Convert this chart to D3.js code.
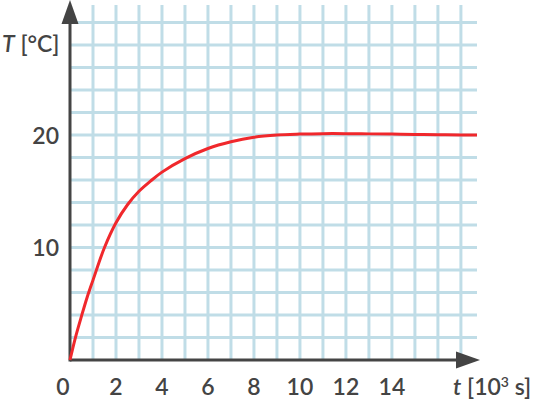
<!DOCTYPE html>
<html lang="en">
<head>
<meta charset="utf-8">
<title>T vs t</title>
<script src="https://d3js.org/d3.v7.min.js"></script>
<style>
  body { margin: 0; background: #fff; }
  text { font-family: Lato, "Open Sans", sans-serif; fill: #444; font-weight: 600; }
</style>
</head>
<body>
<script>
// data
var time = [0, 0.25, 0.5, 0.75, 1, 1.5, 2, 2.5, 3, 3.5, 4, 5, 6, 7, 8, 9, 10, 11, 12, 13, 14, 15, 16, 17, 17.7];
var temp = [0, 2.1, 3.9, 5.6, 7.1, 10, 12.2, 13.8, 15.0, 15.9, 16.7, 17.9, 18.8, 19.4, 19.8, 20.0, 20.08, 20.12, 20.12, 20.1, 20.08, 20.05, 20.02, 20.0, 20.0];
var xTicks = [0, 2, 4, 6, 8, 10, 12, 14];
var yTicks = [10, 20];

var width = 535, height = 400;

var x = d3.scaleLinear().domain([0, 17.7]).range([70, 477]);
var y = d3.scaleLinear().domain([0, 20]).range([360, 135]);

var svg = d3.select("body").append("svg")
    .attr("width", width)
    .attr("height", height);

// grid
var gridColor = "#c0dde7";
svg.append("g").selectAll("line")
    .data(d3.range(1, 18))
    .enter().append("line")
    .attr("x1", function(d) { return x(d); })
    .attr("x2", function(d) { return x(d); })
    .attr("y1", 5)
    .attr("y2", y(0))
    .attr("stroke", gridColor)
    .attr("stroke-width", 3);

svg.append("g").selectAll("line")
    .data(d3.range(2, 31, 2))
    .enter().append("line")
    .attr("x1", x(0))
    .attr("x2", x(17.7))
    .attr("y1", function(d) { return y(d); })
    .attr("y2", function(d) { return y(d); })
    .attr("stroke", gridColor)
    .attr("stroke-width", 3);

// axes with arrows
var axisColor = "#444";
svg.append("line")
    .attr("x1", x(0)).attr("x2", 460)
    .attr("y1", y(0)).attr("y2", y(0))
    .attr("stroke", axisColor).attr("stroke-width", 3);
svg.append("path")
    .attr("d", "M480," + y(0) + "L456," + (y(0) - 8.5) + "L456," + (y(0) + 8.5) + "Z")
    .attr("fill", axisColor);

svg.append("line")
    .attr("x1", x(0)).attr("x2", x(0))
    .attr("y1", y(0) + 1.5).attr("y2", 20)
    .attr("stroke", axisColor).attr("stroke-width", 3);
svg.append("path")
    .attr("d", "M" + x(0) + ",0L" + (x(0) - 8.5) + ",24L" + (x(0) + 8.5) + ",24Z")
    .attr("fill", axisColor);

// curve
var line = d3.line()
    .x(function(d, i) { return x(time[i]); })
    .y(function(d) { return y(d); })
    .curve(d3.curveCatmullRom.alpha(0.5));

svg.append("path")
    .datum(temp)
    .attr("d", line)
    .attr("fill", "none")
    .attr("stroke", "#f0282c")
    .attr("stroke-width", 3);

// tick labels
svg.append("g").selectAll("text")
    .data(xTicks)
    .enter().append("text")
    .attr("x", function(d) { return d == 0 ? x(d) - 7 : x(d); })
    .attr("y", 395)
    .attr("text-anchor", "middle")
    .attr("font-size", 23)
    .text(function(d) { return d; });

svg.append("g").selectAll("text")
    .data(yTicks)
    .enter().append("text")
    .attr("x", 59)
    .attr("y", function(d) { return y(d) + 8.5; })
    .attr("text-anchor", "end")
    .attr("font-size", 23)
    .text(function(d) { return d; });

// axis titles
var tl = svg.append("text")
    .attr("x", 2)
    .attr("y", 52)
    .attr("font-size", 23);
tl.append("tspan").attr("font-style", "italic").text("T");
tl.append("tspan").text(" [°C]");

var xl = svg.append("text")
    .attr("x", 453)
    .attr("y", 395)
    .attr("font-size", 23);
xl.append("tspan").attr("font-style", "italic").text("t");
xl.append("tspan").text(" [10");
xl.append("tspan").attr("font-size", 14).attr("dy", -8).text("3");
xl.append("tspan").attr("dy", 8).text(" s]");
</script>
</body>
</html>
